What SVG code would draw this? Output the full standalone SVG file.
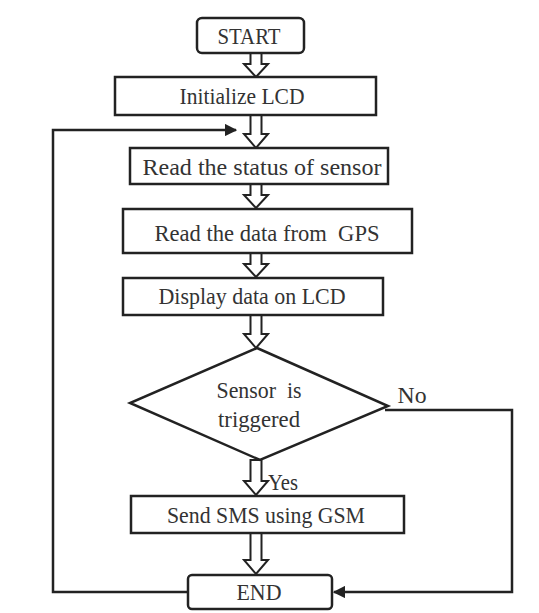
<svg xmlns="http://www.w3.org/2000/svg" width="539" height="613" viewBox="0 0 539 613">
<defs>
<style>
.box{fill:#fff;stroke:#222;stroke-width:2.5}
.t{font-family:"Liberation Serif","Times New Roman",serif;font-size:24px;fill:#333;text-anchor:middle}
.ha{fill:#fff;stroke:#222;stroke-width:2;stroke-linejoin:miter}
.ln{fill:none;stroke:#222;stroke-width:2.5}
</style>
<marker id="ah" viewBox="0 0 10 10" refX="9" refY="5" markerWidth="5" markerHeight="5" orient="auto">
<path d="M0,0 L10,5 L0,10 z" fill="#222"/>
</marker>
</defs>
<rect width="539" height="613" fill="#fff"/>
<g id="connectors">
<path class="ha" d="M250.5,53 L261.5,53 L261.5,64 L268,64 L256,77 L244,64 L250.5,64 Z"/>
<path class="ha" d="M250.5,115 L261.5,115 L261.5,134 L268,134 L256,148 L244,134 L250.5,134 Z"/>
<path class="ha" d="M250.5,184 L261.5,184 L261.5,195 L268,195 L256,208 L244,195 L250.5,195 Z"/>
<path class="ha" d="M250.5,253 L261.5,253 L261.5,264 L268,264 L256,277 L244,264 L250.5,264 Z"/>
<path class="ha" d="M250.5,315 L261.5,315 L261.5,334 L268,334 L256,348 L244,334 L250.5,334 Z"/>
<path class="ha" d="M250.5,460 L261.5,460 L261.5,481 L268,481 L256,495 L244,481 L250.5,481 Z"/>
<path class="ha" d="M250.5,533 L261.5,533 L261.5,560 L268,560 L256,574 L244,560 L250.5,560 Z"/>
<path class="ln" d="M188,592 L53,592 L53,130 L236,130" marker-end="url(#ah)"/>
<path class="ln" d="M385,410 L512,410 L512,592 L334,592" marker-end="url(#ah)"/>
<text class="t" x="283" y="490" textLength="30" lengthAdjust="spacingAndGlyphs">Yes</text>
<text class="t" x="412" y="403" textLength="29" lengthAdjust="spacingAndGlyphs">No</text>
</g>
<g id="start">
<rect class="box" x="197" y="18" width="107" height="35" rx="5"/>
<text class="t" x="249" y="44" textLength="63" lengthAdjust="spacingAndGlyphs">START</text>
</g>
<g id="init">
<rect class="box" x="115" y="77" width="261" height="38"/>
<text class="t" x="242" y="104" textLength="125" lengthAdjust="spacingAndGlyphs">Initialize LCD</text>
</g>
<g id="status">
<rect class="box" x="130" y="148" width="258" height="36"/>
<text class="t" x="262" y="175" textLength="239" lengthAdjust="spacingAndGlyphs">Read the status of sensor</text>
</g>
<g id="gps">
<rect class="box" x="123" y="209" width="289" height="44"/>
<text class="t" x="267" y="241" textLength="225" lengthAdjust="spacingAndGlyphs" xml:space="preserve">Read the data from  GPS</text>
</g>
<g id="display">
<rect class="box" x="123" y="278" width="260" height="37"/>
<text class="t" x="252" y="304" textLength="187" lengthAdjust="spacingAndGlyphs">Display data on LCD</text>
</g>
<g id="decision">
<path class="box" d="M257,348 L388,406 L260,460 L130,403 Z"/>
<text class="t" x="259" y="398" textLength="85" lengthAdjust="spacingAndGlyphs" xml:space="preserve">Sensor  is</text>
<text class="t" x="259" y="427" textLength="82" lengthAdjust="spacingAndGlyphs">triggered</text>
</g>
<g id="sms">
<rect class="box" x="131" y="496" width="273" height="37"/>
<text class="t" x="266" y="523" textLength="198" lengthAdjust="spacingAndGlyphs">Send SMS using GSM</text>
</g>
<g id="end">
<rect class="box" x="188" y="575" width="144" height="34" rx="4"/>
<text class="t" x="259" y="600" textLength="45" lengthAdjust="spacingAndGlyphs">END</text>
</g>
</svg>
